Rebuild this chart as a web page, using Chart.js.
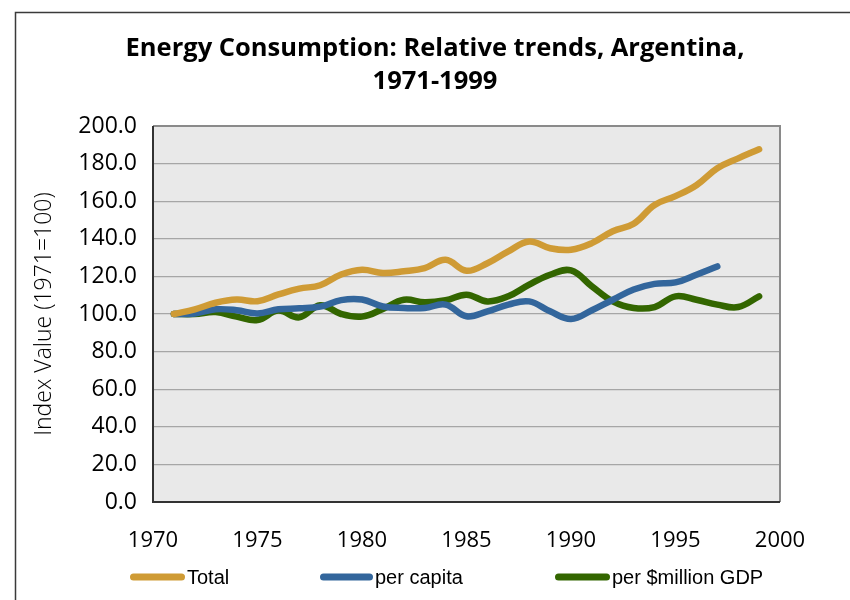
<!DOCTYPE html>
<html>
<head>
<meta charset="utf-8">
<script src="https://cdn.jsdelivr.net/npm/chart.js@4/dist/chart.umd.min.js"></script>
<style>
  html, body { margin: 0; padding: 0; background: #ffffff; }
  #wrap { width: 850px; height: 600px; position: relative; }
</style>
</head>
<body>
<div id="wrap"><canvas id="c" width="850" height="600"></canvas></div>
<script>
const titleLines = ['Energy Consumption: Relative trends, Argentina,', '1971-1999'];
const yAxisTitle = 'Index Value (1971=100)';
const years = [1971,1972,1973,1974,1975,1976,1977,1978,1979,1980,1981,1982,1983,1984,1985,1986,1987,1988,1989,1990,1991,1992,1993,1994,1995,1996,1997,1998,1999];
const seriesNames = ['Total', 'per capita', 'per $million GDP'];
const totalValues = [100, 102.5, 106, 107.7, 106.8, 110.4, 113.5, 115.3, 121, 123.5, 121.8, 122.7, 124.4, 128.8, 123, 127, 133.3, 138.6, 135, 134.2, 137.7, 144, 148, 158, 162.7, 168.5, 177.5, 182.8, 187.6];
const perCapitaValues = [100, 100.3, 102.5, 102, 100.3, 102.5, 103, 103.9, 107.4, 107.7, 104, 103.2, 103.2, 105, 98.8, 101.4, 105, 106.7, 101.4, 97.3, 102, 107.6, 113, 116, 116.8, 120.9, 125.3];
const perGdpValues = [100, 100, 101, 98.6, 96.8, 101.8, 98.2, 104.7, 100, 98.6, 102.7, 107.6, 106.2, 107.3, 110.3, 106.7, 109.4, 115.6, 120.9, 123.2, 114.7, 106.7, 103.2, 103.7, 109.4, 107.6, 105, 103.7, 109.4];
const xTicks = [1970, 1975, 1980, 1985, 1990, 1995, 2000];
const yTicks = [0, 20, 40, 60, 80, 100, 120, 140, 160, 180, 200];

const colors = ['#CF9B35', '#33669C', '#336600'];

function toPoints(vals) { return vals.map((v, i) => ({ x: years[i], y: v })); }

const frameAndArea = {
  id: 'frameAndArea',
  beforeDraw(chart) {
    const ctx = chart.ctx, a = chart.chartArea;
    ctx.save();
    ctx.fillStyle = '#ffffff';
    ctx.fillRect(0, 0, chart.width, chart.height);
    ctx.strokeStyle = '#3a3a3a';
    ctx.lineWidth = 1.5;
    ctx.strokeRect(15.5, 12.5, 1000, 1000);
    ctx.fillStyle = '#e9e9e9';
    ctx.fillRect(a.left, a.top, a.right - a.left, a.bottom - a.top);
    ctx.restore();
  },
  afterDatasetsDraw(chart) {
    const ctx = chart.ctx, a = chart.chartArea;
    ctx.save();
    ctx.lineWidth = 2;
    ctx.strokeStyle = '#8a8a8a';
    ctx.beginPath();
    ctx.moveTo(a.left, a.top); ctx.lineTo(a.right, a.top); ctx.lineTo(a.right, a.bottom);
    ctx.stroke();
    ctx.strokeStyle = '#333333';
    ctx.beginPath();
    ctx.moveTo(a.left, a.top); ctx.lineTo(a.left, a.bottom); ctx.lineTo(a.right, a.bottom);
    ctx.stroke();
    ctx.restore();
  },
  afterDraw(chart) {
    const ctx = chart.ctx;
    const items = [
      { x: 130, w: 55 },
      { x: 320, w: 53 },
      { x: 555, w: 55 }
    ];
    const y = 577;
    ctx.save();
    ctx.font = '20px "Liberation Sans", Arial, sans-serif';
    ctx.textBaseline = 'middle';
    ctx.textAlign = 'left';
    chart.data.datasets.forEach((ds, i) => {
      const it = items[i];
      ctx.strokeStyle = ds.borderColor;
      ctx.lineWidth = 7;
      ctx.lineCap = 'round';
      ctx.beginPath();
      ctx.moveTo(it.x + 3.5, y);
      ctx.lineTo(it.x + it.w - 3.5, y);
      ctx.stroke();
      ctx.fillStyle = '#000000';
      ctx.fillText(ds.label, it.x + it.w + 2, y + 1);
    });
    ctx.restore();
  }
};

const mkDs = (label, vals, color) => ({
  label, data: toPoints(vals), borderColor: color, backgroundColor: color,
  borderWidth: 6.5, pointRadius: 0, pointHoverRadius: 0, tension: 0.4,
  borderCapStyle: 'round', borderJoinStyle: 'round', fill: false, yAxisID: 'y'
});

new Chart(document.getElementById('c'), {
  type: 'line',
  data: {
    datasets: [
      mkDs(seriesNames[0], totalValues, colors[0]),
      mkDs(seriesNames[1], perCapitaValues, colors[1]),
      mkDs(seriesNames[2], perGdpValues, colors[2])
    ]
  },
  plugins: [frameAndArea],
  options: {
    responsive: false,
    animation: false,
    devicePixelRatio: 1,
    layout: { padding: { left: 20, right: 0, top: 0, bottom: 40 } },
    plugins: {
      legend: { display: false },
      tooltip: { enabled: false },
      title: {
        display: true,
        text: titleLines,
        color: '#000000',
        font: { family: '"Open Sans", sans-serif', size: 25.5, weight: 'bold', lineHeight: 33 / 25.5 },
        padding: { top: 32, bottom: 28 }
      }
    },
    scales: {
      x: {
        type: 'linear', min: 1970, max: 2000,
        afterBuildTicks(s) { s.ticks = xTicks.map(v => ({ value: v })); },
        grid: { display: false, drawTicks: false },
        border: { display: false },
        ticks: { color: '#000000', padding: 26, maxRotation: 0, autoSkip: false,
          font: { family: '"Open Sans", sans-serif', size: 22 },
          callback: v => String(v) },
        afterFit(s) { s.height = 58; }
      },
      y: {
        type: 'linear', min: 0, max: 200, position: 'left',
        afterBuildTicks(s) { s.ticks = yTicks.map(v => ({ value: v })); },
        grid: { color: '#a6a6a6', lineWidth: 1.3, drawTicks: false },
        border: { display: false },
        ticks: { color: '#000000', padding: 16,
          font: { family: '"Open Sans", sans-serif', size: 23 },
          callback: v => Number(v).toFixed(1) },
        title: { display: true, text: yAxisTitle, color: '#000000', padding: { top: 11, bottom: 0 },
          font: { family: '"Open Sans", sans-serif', size: 23, weight: 300 } },
        afterFit(s) { s.width = 133; }
      },
      yR: {
        type: 'linear', position: 'right', display: true, min: 0, max: 200,
        grid: { display: false, drawTicks: false }, border: { display: false },
        ticks: { display: false },
        afterFit(s) { s.width = 70; }
      }
    }
  }
});
</script>
</body>
</html>
